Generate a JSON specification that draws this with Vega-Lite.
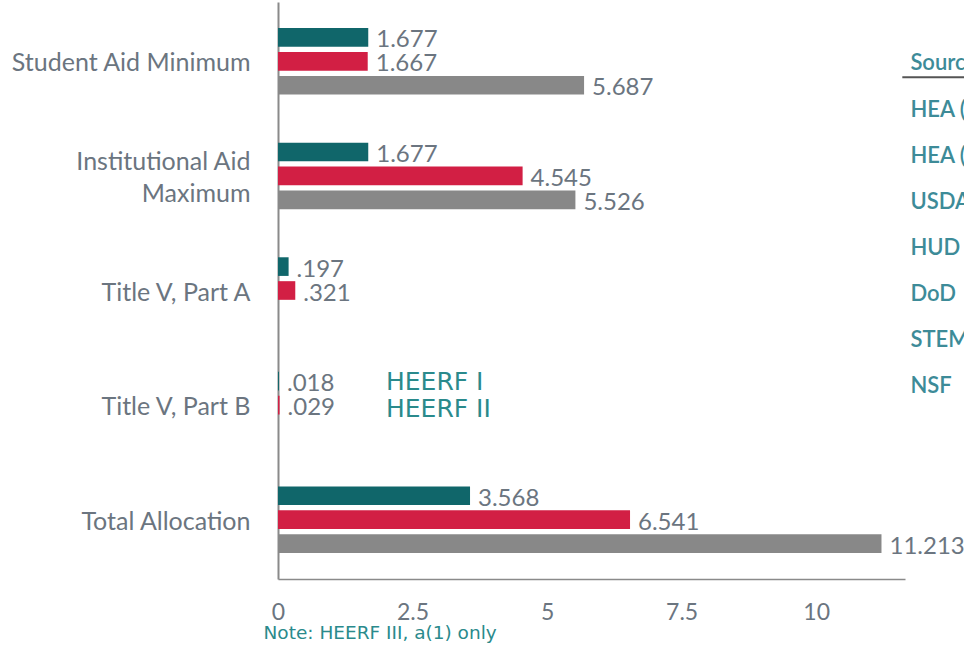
{
  "$schema": "https://vega.github.io/schema/vega-lite/v6.json",
  "autosize": "none",
  "width": 627,
  "height": 577,
  "padding": {"left": 278, "top": 2, "right": 59, "bottom": 70},
  "background": "white",
  "config": {"view": {"stroke": null}, "font": "Lato"},
  "resolve": {"scale": {"y": "independent"}, "axis": {"y": "independent"}},
  "layer": [
    {
      "data": {
        "values": [
          {"category": "Student Aid Minimum", "series": "HEERF I", "value": 1.677, "label": "1.677"},
          {"category": "Student Aid Minimum", "series": "HEERF II", "value": 1.667, "label": "1.667"},
          {"category": "Student Aid Minimum", "series": "HEERF III", "value": 5.687, "label": "5.687"},
          {"category": "Institutional Aid Maximum", "series": "HEERF I", "value": 1.677, "label": "1.677"},
          {"category": "Institutional Aid Maximum", "series": "HEERF II", "value": 4.545, "label": "4.545"},
          {"category": "Institutional Aid Maximum", "series": "HEERF III", "value": 5.526, "label": "5.526"},
          {"category": "Title V, Part A", "series": "HEERF I", "value": 0.197, "label": ".197"},
          {"category": "Title V, Part A", "series": "HEERF II", "value": 0.321, "label": ".321"},
          {"category": "Title V, Part B", "series": "HEERF I", "value": 0.018, "label": ".018"},
          {"category": "Title V, Part B", "series": "HEERF II", "value": 0.029, "label": ".029"},
          {"category": "Total Allocation", "series": "HEERF I", "value": 3.568, "label": "3.568"},
          {"category": "Total Allocation", "series": "HEERF II", "value": 6.541, "label": "6.541"},
          {"category": "Total Allocation", "series": "HEERF III", "value": 11.213, "label": "11.213"}
        ]
      },
      "encoding": {
        "y": {
          "field": "category",
          "type": "nominal",
          "scale": {
            "domain": ["Student Aid Minimum", "Institutional Aid Maximum", "Title V, Part A", "Title V, Part B", "Total Allocation"],
            "paddingInner": 0.42,
            "paddingOuter": 0.228
          },
          "axis": {
            "title": null,
            "domain": true,
            "domainColor": "#8a8a8a",
            "domainWidth": 2,
            "ticks": false,
            "grid": false,
            "labelPadding": 28,
            "labelFont": "Lato",
            "labelFontSize": 25,
            "labelColor": "#6b7580",
            "labelLimit": 320,
            "labelLineHeight": 32,
            "labelOffset": {"condition": {"test": "datum.value == 'Institutional Aid Maximum'", "value": -14}, "value": 2},
            "labelExpr": "datum.value == 'Institutional Aid Maximum' ? ['Institutional Aid', 'Maximum'] : datum.value"
          }
        },
        "yOffset": {
          "field": "series",
          "type": "nominal",
          "scale": {"domain": ["HEERF I", "HEERF II", "HEERF III"], "paddingInner": 0.22, "paddingOuter": 0}
        },
        "x": {
          "field": "value",
          "type": "quantitative",
          "scale": {"domain": [0, 11.65], "nice": false, "zero": true},
          "axis": {
            "title": "Note: HEERF III, a(1) only",
            "values": [0, 2.5, 5, 7.5, 10],
            "labelExpr": "'' + datum.value",
            "labelFlush": false,
            "ticks": false,
            "grid": false,
            "domainColor": "#8a8a8a",
            "domainWidth": 1.5,
            "labelPadding": 22,
            "labelFont": "Lato",
            "labelFontSize": 23,
            "labelColor": "#6b7580",
            "titleFont": "DejaVu Sans",
            "titleFontSize": 18.5,
            "titleFontWeight": "normal",
            "titleColor": "#2a8a8c",
            "titleAlign": "left",
            "titleAnchor": "start",
            "titleX": -15,
            "titleY": 53,
            "titleBaseline": "middle"
          }
        }
      },
      "layer": [
        {
          "mark": {"type": "bar"},
          "encoding": {
            "color": {
              "field": "series",
              "type": "nominal",
              "scale": {"domain": ["HEERF I", "HEERF II", "HEERF III"], "range": ["#10666a", "#d21f44", "#888888"]},
              "legend": {
                "values": ["HEERF I", "HEERF II"],
                "title": null,
                "orient": "none",
                "legendX": 83,
                "legendY": 367,
                "padding": 0,
                "symbolSize": 0,
                "symbolOpacity": 0,
                "symbolStrokeWidth": 0,
                "labelOffset": 0,
                "labelFont": "DejaVu Sans",
                "labelFontSize": 25,
                "labelColor": "#2a8a8c",
                "rowPadding": 1
              }
            }
          }
        },
        {
          "mark": {"type": "text", "align": "left", "baseline": "middle", "dx": 8, "dy": 3, "fontSize": 24, "font": "Lato", "color": "#6b7580"},
          "encoding": {"text": {"field": "label", "type": "nominal"}}
        }
      ]
    },
    {
      "data": {
        "values": [
          {"idx": 0, "t": "Source"},
          {"idx": 1, "t": "HEA (a)(1)"},
          {"idx": 2, "t": "HEA (a)(2)"},
          {"idx": 3, "t": "USDA"},
          {"idx": 4, "t": "HUD"},
          {"idx": 5, "t": "DoD"},
          {"idx": 6, "t": "STEM"},
          {"idx": 7, "t": "NSF"}
        ]
      },
      "encoding": {
        "y": {
          "field": "idx",
          "type": "quantitative",
          "scale": {"domain": [-1.33, 11.175], "reverse": true, "nice": false, "zero": false},
          "axis": null
        }
      },
      "layer": [
        {
          "mark": {"type": "text", "align": "left", "baseline": "middle", "fontSize": 22, "font": "Lato", "fontWeight": 600, "color": "#3d8b98"},
          "encoding": {
            "x": {"datum": 11.75, "type": "quantitative"},
            "text": {"field": "t", "type": "nominal"}
          }
        },
        {
          "transform": [{"filter": "datum.idx == 0"}],
          "mark": {"type": "rule", "color": "#555555", "strokeWidth": 2},
          "encoding": {
            "y": {"datum": 0.3, "type": "quantitative"},
            "x": {"datum": 11.6, "type": "quantitative"},
            "x2": {"datum": 14}
          }
        }
      ]
    }
  ]
}
